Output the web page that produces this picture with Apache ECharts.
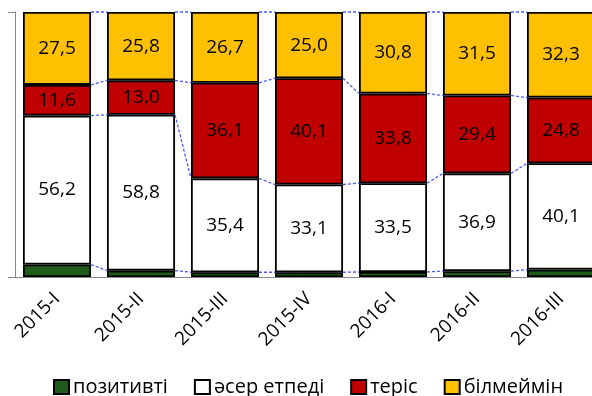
<!DOCTYPE html>
<html>
<head>
<meta charset="utf-8">
<script src="https://cdn.jsdelivr.net/npm/echarts@6/dist/echarts.min.js"></script>
<style>
  html, body { margin: 0; padding: 0; background: #fff; }
  #chart { width: 592px; height: 396px; }
</style>
</head>
<body>
<div id="chart"></div>
<script>
// Quarterly survey shares, percent of respondents
const categories = ['2015-I', '2015-II', '2015-III', '2015-IV', '2016-I', '2016-II', '2016-III'];
const seriesNames = ['позитивті', 'әсер етпеді', 'теріс', 'білмеймін'];
const positive = [4.7, 2.4, 1.8, 1.8, 1.9, 2.2, 2.8];
const noEffect = [56.2, 58.8, 35.4, 33.1, 33.5, 36.9, 40.1];
const negative = [11.6, 13.0, 36.1, 40.1, 33.8, 29.4, 24.8];
const dontKnow = [27.5, 25.8, 26.7, 25.0, 30.8, 31.5, 32.3];

const FONT = '"Open Sans", "Noto Sans", sans-serif';
const BAR_FRACTION = 0.81;

// running totals of the stack, one row per boundary (top of each segment)
const layers = [positive, noEffect, negative, dontKnow];
const boundaries = [];
let running = categories.map(() => 0);
layers.forEach(layer => {
  running = running.map((v, i) => v + layer[i]);
  boundaries.push(running.slice());
});

const fmt = v => v.toFixed(1).replace('.', ',');

function barSeries(name, data, color, withLabel) {
  return {
    name: name,
    type: 'bar',
    stack: 'total',
    barCategoryGap: ((1 - BAR_FRACTION) * 100) + '%',
    data: data,
    itemStyle: { color: color, borderColor: '#000', borderWidth: 1.8 },
    label: {
      show: withLabel,
      position: 'inside',
      color: '#000',
      fontFamily: FONT,
      fontSize: 19,
      formatter: p => fmt(p.value)
    },
    emphasis: { disabled: true }
  };
}

const chart = echarts.init(document.getElementById('chart'));
chart.setOption({
  animation: false,
  backgroundColor: '#fff',
  grid: { left: 15, top: 12, width: 588, height: 265, outerBoundsMode: 'none', containLabel: false },
  legend: {
    data: seriesNames,
    left: 53,
    top: 377,
    padding: 0,
    itemWidth: 15,
    itemHeight: 14,
    itemGap: 26,
    icon: 'rect',
    itemStyle: { borderColor: '#000', borderWidth: 2 },
    textStyle: { fontFamily: FONT, fontSize: 20, color: '#000', padding: [0, 0, 0, -1] }
  },
  xAxis: {
    type: 'category',
    data: categories,
    axisLine: { lineStyle: { color: '#868686', width: 1 } },
    axisTick: { length: 7, lineStyle: { color: '#868686' } },
    axisLabel: { rotate: 45, margin: 19, color: '#000', fontFamily: FONT, fontSize: 19 }
  },
  yAxis: {
    type: 'value',
    min: 0,
    max: 100,
    interval: 100,
    axisLine: { show: true, lineStyle: { color: '#868686', width: 1 } },
    axisTick: { show: true, length: 7, lineStyle: { color: '#868686' } },
    axisLabel: { show: false },
    splitLine: { show: false }
  },
  series: [
    barSeries(seriesNames[0], positive, '#1F5C1A', false),
    barSeries(seriesNames[1], noEffect, '#FFFFFF', true),
    barSeries(seriesNames[2], negative, '#C00000', true),
    barSeries(seriesNames[3], dontKnow, '#FFC000', true),
    {
      // dashed connectors between neighbouring bars at each segment boundary
      type: 'custom',
      silent: true,
      z: 5,
      data: categories.slice(0, -1).map((c, i) => [i]),
      encode: { x: 0 },
      renderItem: function (params, api) {
        const i = api.value(0);
        const half = api.size([1, 0])[0] * BAR_FRACTION / 2;
        const children = boundaries.map(row => {
          const a = api.coord([i, row[i]]);
          const b = api.coord([i + 1, row[i + 1]]);
          return {
            type: 'line',
            shape: { x1: a[0] + half, y1: a[1], x2: b[0] - half, y2: b[1] },
            style: { stroke: '#4B5BF5', lineWidth: 1.3, lineDash: [3, 2] }
          };
        });
        return { type: 'group', children: children };
      }
    }
  ]
});
</script>
</body>
</html>
